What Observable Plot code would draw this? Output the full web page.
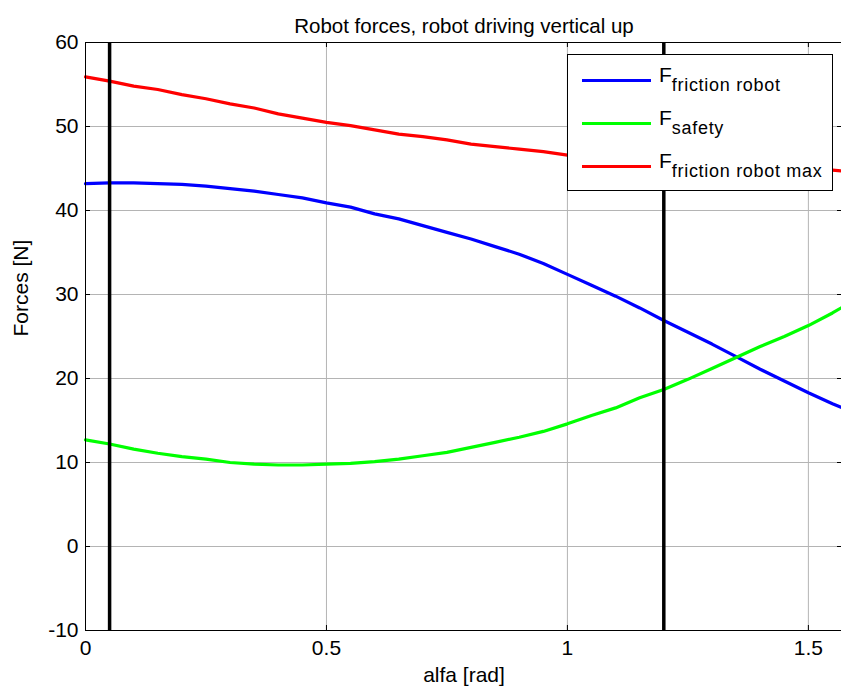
<!DOCTYPE html>
<html><head><meta charset="utf-8">
<script src="https://cdn.jsdelivr.net/npm/d3@7"></script>
<script src="https://cdn.jsdelivr.net/npm/@observablehq/plot@0.6"></script>
<style>
body{margin:0;background:#fff;font-family:"Liberation Sans",Arial,sans-serif;}
#wrap{position:relative;width:841px;height:695px;overflow:hidden;}
#legend{position:absolute;left:567px;top:54px;width:266px;height:137px;background:#fff;border:1px solid #000;box-sizing:border-box;}
.row{position:absolute;left:14px;height:40px;}
.row .sw{position:absolute;left:0;width:69px;height:3px;}
.row .lab{position:absolute;left:77px;top:-16px;white-space:nowrap;font-size:21px;color:#000;}
.row .lab sub{font-size:18px;vertical-align:-9px;letter-spacing:0.7px;}
</style></head><body><div id="wrap"></div>
<script>
const alfa = [0, 0.05, 0.1, 0.15, 0.2, 0.25, 0.3, 0.35, 0.4, 0.45, 0.5, 0.55, 0.6, 0.65, 0.7, 0.75, 0.8, 0.85, 0.9, 0.95, 1.0, 1.05, 1.1, 1.15, 1.2, 1.25, 1.3, 1.35, 1.4, 1.45, 1.5, 1.55, 1.5708];
const fFrictionRobot = [43.2, 43.3, 43.3, 43.2, 43.1, 42.9, 42.6, 42.3, 41.9, 41.5, 40.9, 40.4, 39.6, 39.0, 38.2, 37.4, 36.6, 35.7, 34.8, 33.7, 32.4, 31.1, 29.8, 28.4, 26.9, 25.5, 24.1, 22.6, 21.1, 19.7, 18.3, 17.0, 16.5];
const fSafety = [12.7, 12.2, 11.6, 11.1, 10.7, 10.4, 10.0, 9.8, 9.7, 9.7, 9.8, 9.9, 10.1, 10.4, 10.8, 11.2, 11.8, 12.4, 13.0, 13.7, 14.6, 15.6, 16.5, 17.7, 18.7, 19.9, 21.2, 22.5, 23.8, 25.0, 26.3, 27.8, 28.5];
const fFrictionRobotMax = [55.9, 55.4, 54.8, 54.4, 53.8, 53.3, 52.7, 52.2, 51.5, 51.0, 50.5, 50.1, 49.6, 49.1, 48.8, 48.4, 47.9, 47.6, 47.3, 47.0, 46.6, 46.3, 46.0, 45.8, 45.6, 45.4, 45.2, 45.1, 45.0, 44.9, 44.8, 44.8, 44.7];
const markerAlfa = [0.05, 1.2];
const xTicks = [0, 0.5, 1, 1.5];
const yTicks = [-10, 0, 10, 20, 30, 40, 50, 60];
const seriesKeys = ["friction robot", "safety", "friction robot max"];
const seriesColors = ["#0000ff", "#00ff00", "#ff0000"];
const titleText = "Robot forces, robot driving vertical up";
const xLabel = "alfa [rad]";
const yLabel = "Forces [N]";

const seriesVals = [fFrictionRobot, fSafety, fFrictionRobotMax];
const rows = [];
seriesKeys.forEach((k, i) => alfa.forEach((a, j) => rows.push({alfa: a, value: seriesVals[i][j], series: k})));

const W = 841, H = 695, mL = 85, mT = 42, mB = 65, mR = -1;
const fw = W - mR - mL, fh = H - mT - mB;
const font = "Liberation Sans, Arial, sans-serif";
const grid = "#b4b4b4";

const chart = Plot.plot({
  width: W, height: H,
  marginLeft: mL, marginTop: mT, marginBottom: mB, marginRight: mR,
  style: {fontFamily: font, fontSize: "21px", background: "white", color: "black", overflow: "visible"},
  x: {domain: [0, Math.PI / 2]},
  y: {domain: [-10, 60]},
  color: {domain: seriesKeys, range: seriesColors},
  marks: [
    Plot.ruleX(xTicks, {stroke: grid, strokeWidth: 1}),
    Plot.ruleY(yTicks, {stroke: grid, strokeWidth: 1}),
    Plot.line(rows, {x: "alfa", y: "value", z: "series", stroke: "series", strokeWidth: 3.2, curve: "linear"}),
    Plot.ruleX(markerAlfa, {stroke: "black", strokeWidth: 3.5}),
    Plot.frame({stroke: "black", strokeWidth: 1}),
    Plot.ruleX(xTicks, {stroke: "black", insetTop: fh - 5}),
    Plot.ruleX(xTicks, {stroke: "black", insetBottom: fh - 5}),
    Plot.ruleY(yTicks, {stroke: "black", insetRight: fw - 5}),
    Plot.ruleY(yTicks, {stroke: "black", insetLeft: fw - 5}),
    Plot.axisX(xTicks, {tickSize: 0, tickPadding: 10, tickFormat: d => String(d), label: null, fontSize: 21}),
    Plot.axisY(yTicks, {tickSize: 0, tickPadding: 7, tickFormat: d => String(d), label: null, fontSize: 21}),
    Plot.text([titleText], {frameAnchor: "top", dy: -24, fontSize: 20.5}),
    Plot.text([xLabel], {frameAnchor: "bottom", dy: 51, fontSize: 21}),
    Plot.text([yLabel], {frameAnchor: "left", dx: -64, rotate: -90, fontSize: 21})
  ]
});
const wrap = document.getElementById("wrap");
wrap.appendChild(chart);

const legend = document.createElement("div");
legend.id = "legend";
const rowTops = [24, 67, 110];
seriesKeys.forEach((k, i) => {
  const r = document.createElement("div");
  r.className = "row";
  r.style.top = rowTops[i] + "px";
  const sw = document.createElement("div");
  sw.className = "sw";
  sw.style.background = seriesColors[i];
  const lab = document.createElement("div");
  lab.className = "lab";
  lab.innerHTML = "F<sub>" + k + "</sub>";
  r.appendChild(sw); r.appendChild(lab);
  legend.appendChild(r);
});
wrap.appendChild(legend);
</script></body></html>
